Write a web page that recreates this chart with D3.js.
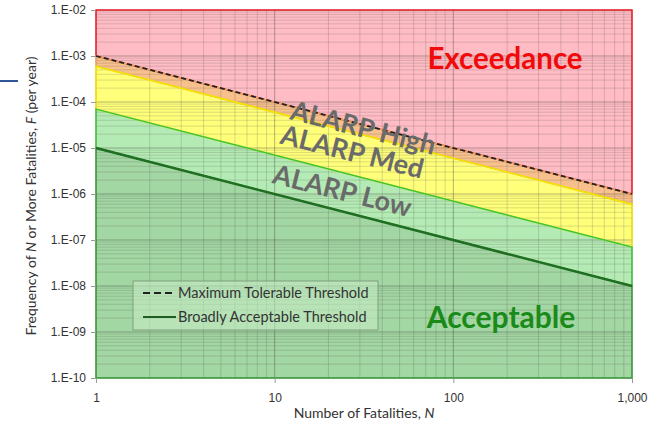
<!DOCTYPE html>
<html>
<head>
<meta charset="utf-8">
<script src="https://cdn.jsdelivr.net/npm/d3@7"></script>
<style>
  body { margin: 0; background: #fff; }
  svg { font-family: Lato, "Open Sans", sans-serif; }
</style>
</head>
<body>
<div id="chart"></div>
<script>
// end points of each boundary line, at N = 1 and N = 1000
var nRange = [1, 1000];
var exceedTop = [1e-2, 1e-2];
var maxTolerable = [1e-3, 1e-6];
var alarpHighBottom = [6e-4, 6e-7];
var alarpMedBottom = [7e-5, 7e-8];
var broadlyAcceptable = [1e-5, 1e-8];
var floorF = [1e-10, 1e-10];

var yTicks = [1e-2, 1e-3, 1e-4, 1e-5, 1e-6, 1e-7, 1e-8, 1e-9, 1e-10];
var xTicks = [1, 10, 100, 1000];

var width = 664, height = 425;
var svg = d3.select('#chart').append('svg')
    .attr('width', width)
    .attr('height', height);

var x = d3.scaleLog().domain([1, 1000]).range([96, 632]);
var y = d3.scaleLog().domain([1e-10, 1e-2]).range([378, 10]);

// zone polygons: upper boundary, lower boundary
var zones = [
    {top: exceedTop, bottom: maxTolerable, fill: '#ffbcc4', stroke: '#e8202a'},
    {top: maxTolerable, bottom: alarpHighBottom, fill: '#f7c08c', stroke: '#f5a25a'},
    {top: alarpHighBottom, bottom: alarpMedBottom, fill: '#ffff7a', stroke: '#f2e600'},
    {top: alarpMedBottom, bottom: broadlyAcceptable, fill: '#b4ebb4', stroke: '#3cc43c'},
    {top: broadlyAcceptable, bottom: floorF, fill: '#a2d6a2', stroke: '#3a9a3a'}
];

function zonePoints(z) {
    var pts = [];
    nRange.forEach(function(n, i) { pts.push([x(n), y(z.top[i])]); });
    for (var i = nRange.length - 1; i >= 0; i--) pts.push([x(nRange[i]), y(z.bottom[i])]);
    return pts;
}

svg.selectAll('.zone')
    .data(zones)
    .join('polygon')
    .attr('class', 'zone')
    .attr('points', function(d) { return zonePoints(d).join(' '); })
    .attr('fill', function(d) { return d.fill; });

// gridlines (minor + major), drawn over fills
var grid = svg.append('g');
var yGrid = [];
for (var e = -10; e < -2; e++) for (var k = 1; k < 10; k++) yGrid.push(k * Math.pow(10, e));
yGrid.push(1e-2);
var xGrid = [];
for (var e2 = 0; e2 < 3; e2++) for (var k2 = 1; k2 < 10; k2++) xGrid.push(k2 * Math.pow(10, e2));
xGrid.push(1000);

function isMajor(d) { return Math.abs(Math.log10(d) % 1) < 1e-6; }

grid.selectAll('.hg')
    .data(yGrid)
    .join('line')
    .attr('x1', x(1)).attr('x2', x(1000))
    .attr('y1', d => y(d)).attr('y2', d => y(d))
    .attr('stroke', d => isMajor(d) ? 'rgba(60,60,60,0.38)' : 'rgba(80,80,80,0.2)')
    .attr('stroke-width', 1);

grid.selectAll('.vg')
    .data(xGrid)
    .join('line')
    .attr('y1', y(1e-2)).attr('y2', y(1e-10))
    .attr('x1', d => x(d)).attr('x2', d => x(d))
    .attr('stroke', d => isMajor(d) ? 'rgba(60,60,60,0.38)' : 'rgba(80,80,80,0.22)')
    .attr('stroke-width', 1);

// zone outlines
svg.selectAll('.zoneEdge')
    .data(zones)
    .join('polygon')
    .attr('class', 'zoneEdge')
    .attr('points', function(d) { return zonePoints(d).join(' '); })
    .attr('fill', 'none')
    .attr('stroke', function(d) { return d.stroke; })
    .attr('stroke-width', 1.5);

var line = d3.line()
    .x(function(d) { return x(d[0]); })
    .y(function(d) { return y(d[1]); });

svg.append('path')
    .attr('d', line(d3.zip(nRange, broadlyAcceptable)))
    .attr('fill', 'none')
    .attr('stroke', '#1f6e22')
    .attr('stroke-width', 2.5);

svg.append('path')
    .attr('d', line(d3.zip(nRange, maxTolerable)))
    .attr('fill', 'none')
    .attr('stroke', '#222')
    .attr('stroke-width', 1.8)
    .attr('stroke-dasharray', '5,3');

// axes
var fmtY = function(d) {
    var p = -Math.round(Math.log10(d));
    return '1.E-' + (p < 10 ? '0' + p : p);
};

var yAxis = svg.append('g')
    .attr('transform', 'translate(' + x(1) + ',0)')
    .call(d3.axisLeft(y).tickValues(yTicks).tickFormat(fmtY).tickSize(5).tickPadding(5));

var xAxis = svg.append('g')
    .attr('transform', 'translate(0,' + y(1e-10) + ')')
    .call(d3.axisBottom(x).tickValues(xTicks).tickFormat(d3.format(',')).tickSize(5).tickPadding(10));

[yAxis, xAxis].forEach(function(a) {
    a.select('.domain').remove();
    a.selectAll('line').attr('stroke', '#999');
    a.selectAll('text').attr('fill', '#333').style('font-size', '12px');
});

// axis titles
var yTitle = svg.append('text')
    .attr('transform', 'translate(36,' + 196 + ') rotate(-90)')
    .attr('text-anchor', 'middle')
    .attr('fill', '#333')
    .style('font-size', '14px');
yTitle.append('tspan').text('Frequency of ');
yTitle.append('tspan').style('font-style', 'italic').text('N');
yTitle.append('tspan').text(' or More Fatalities, ');
yTitle.append('tspan').style('font-style', 'italic').text('F');
yTitle.append('tspan').text(' (per year)');

var xTitle = svg.append('text')
    .attr('x', 364).attr('y', 418)
    .attr('text-anchor', 'middle')
    .attr('fill', '#333')
    .style('font-size', '14px');
xTitle.append('tspan').text('Number of Fatalities, ');
xTitle.append('tspan').style('font-style', 'italic').text('N');

// zone labels
svg.append('text')
    .attr('x', 505).attr('y', 69)
    .attr('text-anchor', 'middle')
    .attr('fill', '#f00a0a')
    .style('font-size', '29.5px').style('font-weight', 'bold')
    .text('Exceedance');

svg.append('text')
    .attr('x', 501).attr('y', 328)
    .attr('text-anchor', 'middle')
    .attr('fill', '#1a8a1a')
    .style('font-size', '30px').style('font-weight', 'bold')
    .text('Acceptable');

var alarpLabels = [
    {text: 'ALARP High', cx: 361, cy: 137},
    {text: 'ALARP Med', cx: 350, cy: 161},
    {text: 'ALARP Low', cx: 340, cy: 200}
];
svg.selectAll('.alarp')
    .data(alarpLabels)
    .join('text')
    .attr('class', 'alarp')
    .attr('transform', d => 'translate(' + d.cx + ',' + d.cy + ') rotate(14)')
    .attr('text-anchor', 'middle')
    .attr('fill', '#6a6a6a')
    .style('font-size', '27px').style('font-weight', 'bold')
    .text(d => d.text);

// legend
var legend = svg.append('g');
legend.append('rect')
    .attr('x', 133).attr('y', 281)
    .attr('width', 245).attr('height', 49)
    .attr('fill', 'rgba(200,238,200,0.55)')
    .attr('stroke', '#7f9f7f').attr('stroke-width', 1);

var legendItems = [
    {label: 'Maximum Tolerable Threshold', dash: '7,4', color: '#222'},
    {label: 'Broadly Acceptable Threshold', dash: null, color: '#1f5e22'}
];
legendItems.forEach(function(d, i) {
    var ly = 293 + i * 24;
    legend.append('line')
        .attr('x1', 143).attr('x2', 176)
        .attr('y1', ly).attr('y2', ly)
        .attr('stroke', d.color).attr('stroke-width', 1.8)
        .attr('stroke-dasharray', d.dash);
    legend.append('text')
        .attr('x', 178).attr('y', ly + 5)
        .attr('fill', '#333')
        .style('font-size', '14.5px')
        .text(d.label);
});

// decorative slide dash at left
svg.append('line')
    .attr('x1', 0).attr('x2', 18)
    .attr('y1', 81).attr('y2', 81)
    .attr('stroke', '#2f5597').attr('stroke-width', 2);
</script>
</body>
</html>
